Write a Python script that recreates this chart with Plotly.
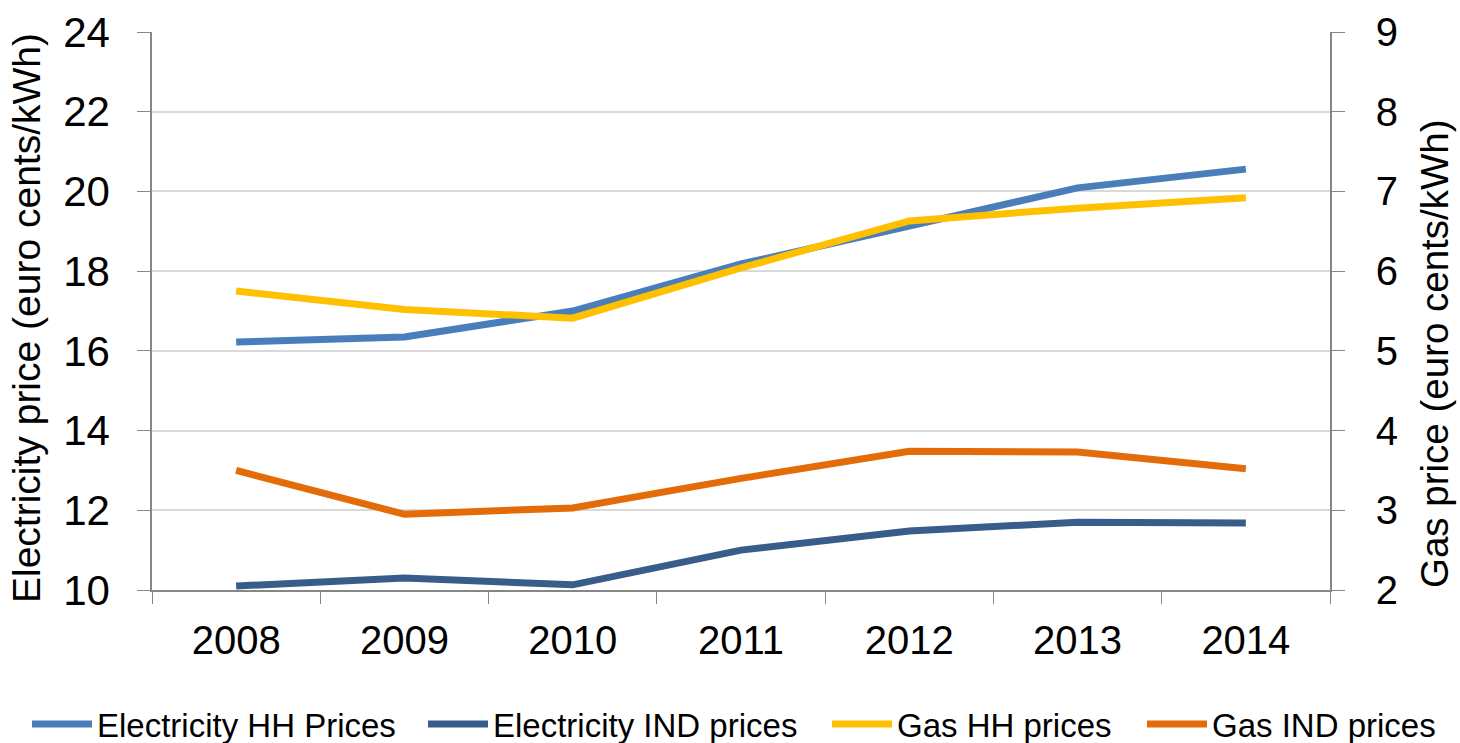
import plotly.graph_objects as go

years = ["2008", "2009", "2010", "2011", "2012", "2013", "2014"]
elec_hh = [16.22, 16.35, 17.0, 18.18, 19.13, 20.09, 20.56]
elec_ind = [10.1, 10.3, 10.13, 11.0, 11.48, 11.7, 11.68]
gas_hh = [5.75, 5.52, 5.41, 6.04, 6.63, 6.79, 6.92]
gas_ind = [3.5, 2.95, 3.03, 3.40, 3.74, 3.73, 3.52]

FONT = "Liberation Sans, Arial, sans-serif"
GRID = "#D9D9D9"
AXIS = "#868686"

L, R, T, B = 152, 1330, 32, 590
PW, PH = R - L, B - T

def px_x(px):
    return (px - L) / PW

def px_y(py):
    return (B - py) / PH

fig = go.Figure()
fig.add_trace(go.Scatter(x=years, y=elec_hh, name="Electricity HH Prices", mode="lines",
                         line=dict(color="#4A7EBB", width=7), legend="legend"))
fig.add_trace(go.Scatter(x=years, y=elec_ind, name="Electricity IND prices", mode="lines",
                         line=dict(color="#385D8A", width=7), legend="legend2"))
fig.add_trace(go.Scatter(x=years, y=gas_hh, name="Gas HH prices", mode="lines", yaxis="y2",
                         line=dict(color="#FFC000", width=7), legend="legend3"))
fig.add_trace(go.Scatter(x=years, y=gas_ind, name="Gas IND prices", mode="lines", yaxis="y2",
                         line=dict(color="#E36C09", width=7), legend="legend4"))

def leg(xpx):
    return dict(orientation="h", x=px_x(xpx), xanchor="left", y=px_y(724), yanchor="middle",
                font=dict(size=33, family=FONT), itemwidth=60, bgcolor="rgba(0,0,0,0)")

fig.update_layout(
    width=1460, height=743,
    margin=dict(l=L, r=1460 - R, t=T, b=743 - B, autoexpand=False),
    paper_bgcolor="white", plot_bgcolor="white",
    font=dict(family=FONT, color="black"),
    xaxis=dict(type="category", range=[-0.5, 6.5], tickson="boundaries", ticks="outside",
               ticklen=12, tickcolor=AXIS, showline=True, linecolor=AXIS, linewidth=1.5,
               showgrid=False, tickfont=dict(size=40, family=FONT), ticklabelstandoff=14),
    yaxis=dict(range=[10, 24], dtick=2, ticks="outside", ticklen=13, tickcolor=AXIS,
               showline=True, linecolor=AXIS, linewidth=1.5, gridcolor=GRID, gridwidth=1.5,
               zeroline=False, tickfont=dict(size=42, family=FONT), ticklabelstandoff=19),
    yaxis2=dict(range=[2, 9], dtick=1, overlaying="y", side="right", ticks="outside",
                ticklen=13, tickcolor=AXIS, showline=True, linecolor=AXIS, linewidth=1.5,
                showgrid=False, zeroline=False, tickfont=dict(size=40, family=FONT),
                ticklabelstandoff=23),
    showlegend=True,
    legend=leg(27), legend2=leg(423), legend3=leg(827), legend4=leg(1142),
    annotations=[
        dict(text="Electricity price (euro cents/kWh)", textangle=-90, xref="paper", yref="paper",
             x=px_x(26), y=px_y(318), xanchor="center", yanchor="middle",
             showarrow=False, font=dict(size=39, family=FONT)),
        dict(text="Gas price (euro cents/kWh)", textangle=-90, xref="paper", yref="paper",
             x=px_x(1434), y=px_y(354), xanchor="center", yanchor="middle",
             showarrow=False, font=dict(size=38.5, family=FONT)),
    ],
)

fig.write_html("out.html", config={"displayModeBar": False},
               post_script="document.body.style.margin='0';document.body.style.overflow='hidden';")
